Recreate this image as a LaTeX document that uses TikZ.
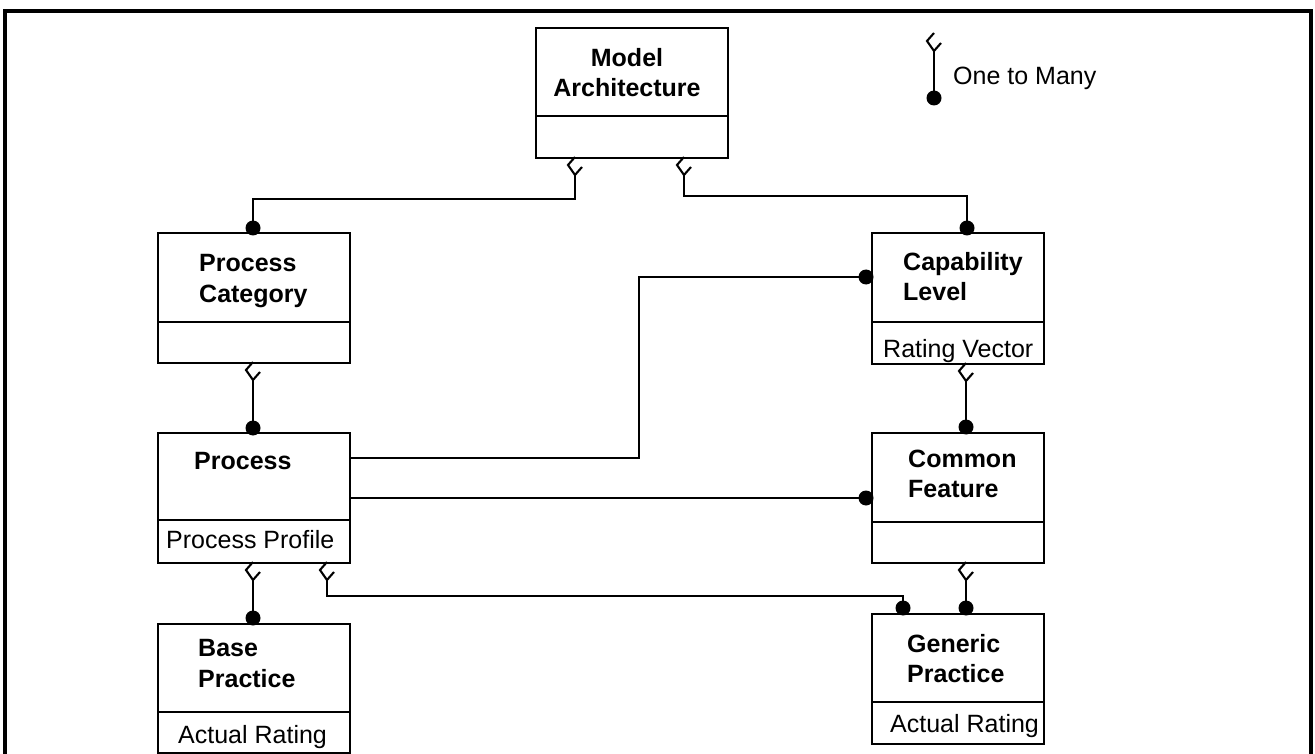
\documentclass[tikz,border=0pt]{standalone}
\usepackage{fontspec}
\setmainfont{Liberation Sans}
\usetikzlibrary{calc}
\begin{document}
\begin{tikzpicture}[x=1pt,y=-1pt,
  box/.style={draw, line width=1.9pt, anchor=north west, inner sep=0pt, minimum width=#1},
  conn/.style={line width=1.7pt},
  divl/.style={line width=1.6pt},
  lbl/.style={anchor=base west, inner sep=0pt, font=\fontsize{25}{30}\selectfont},
  blbl/.style={anchor=base west, inner sep=0pt, font=\fontsize{25}{30}\selectfont\bfseries},
  crowfoot/.pic={\draw[line width=2.1pt,line join=miter] (0,0)--(-7,8)--(0,18)--(7,10);},
  dotc/.style={fill=black}
]
\useasboundingbox (0,0) rectangle (1315,754);
% frame
\draw[line width=3.5pt] (5,760)--(5,11)--(1311,11)--(1311,760);

% boxes
\node[box=192pt, minimum height=130pt] (ma) at (535,27) {};
\node[box=192pt, minimum height=130pt] (pc) at (157,232) {};
\node[box=192pt, minimum height=130pt] (pr) at (157,432) {};
\node[box=192pt, minimum height=129pt] (bp) at (157,623) {};
\node[box=172pt, minimum height=131pt] (cl) at (871,232) {};
\node[box=172pt, minimum height=130pt] (cf) at (871,432) {};
\node[box=172pt, minimum height=130pt] (gp) at (871,613) {};

% dividers
\draw[divl] (ma.west |- 0,116) -- (ma.east |- 0,116);
\draw[divl] (pc.west |- 0,322) -- (pc.east |- 0,322);
\draw[divl] (pr.west |- 0,520) -- (pr.east |- 0,520);
\draw[divl] (bp.west |- 0,712) -- (bp.east |- 0,712);
\draw[divl] (cl.west |- 0,322) -- (cl.east |- 0,322);
\draw[divl] (cf.west |- 0,522) -- (cf.east |- 0,522);
\draw[divl] (gp.west |- 0,702) -- (gp.east |- 0,702);

% texts
\node[blbl, anchor=base] (t1) at (627,67) {Model};
\node[blbl, anchor=base] (t2) at (627,97) {Architecture};
\node[blbl] (t3) at (199,272) {Process};
\node[blbl] (t4) at (199,302) {Category};
\node[blbl] (t5) at (194,469) {Process};
\node[lbl] (t6) at (166,548) {Process Profile};
\node[blbl] (t7) at (198,656) {Base};
\node[blbl] (t8) at (198,687) {Practice};
\node[lbl] (t9) at (178,743) {Actual Rating};
\node[blbl] (t10) at (903,270) {Capability};
\node[blbl] (t11) at (903,300) {Level};
\node[lbl] (t12) at (883,357) {Rating Vector};
\node[blbl] (t13) at (908,467) {Common};
\node[blbl] (t14) at (908,497) {Feature};
\node[blbl] (t15) at (907,652) {Generic};
\node[blbl] (t16) at (907,682) {Practice};
\node[lbl] (t17) at (890,732) {Actual Rating};
\node[lbl] (t18) at (953,85) {One to Many};

% ports
\coordinate (maL) at (575,157);
\coordinate (maR) at (684,157);
\coordinate (pcB) at (253,362);
\coordinate (prB1) at (253,562);
\coordinate (prB2) at (327,562);
\coordinate (prR1) at (349,458);
\coordinate (prR2) at (349,498);
\coordinate (clB) at (966,363);
\coordinate (cfB) at (966,562);
\coordinate (pcT) at (253,232);
\coordinate (clT) at (967,232);
\coordinate (clL) at (871,277);
\coordinate (cfL) at (871,498);
\coordinate (cfT) at (966,432);
\coordinate (bpT) at (253,623);
\coordinate (gpT1) at (903,613);
\coordinate (gpT2) at (966,613);
\coordinate (lgT) at (934,33);
\coordinate (lgB) at (934,98);

% legend
\pic at (lgT) {crowfoot};
\draw[conn] ($(lgT)+(0,18)$) -- (lgB);
\fill[dotc] (lgB) circle[radius=7.5pt];

% connectors
\pic at (maL) {crowfoot};
\draw[conn] ($(maL)+(0,18)$) |- (253,199) -- (pcT);
\fill[dotc] ($(pcT)+(0,-4)$) circle[radius=7.5pt];

\pic at (maR) {crowfoot};
\draw[conn] ($(maR)+(0,18)$) |- (967,196) -- (clT);
\fill[dotc] ($(clT)+(0,-4)$) circle[radius=7.5pt];

\pic at (pcB) {crowfoot};
\draw[conn] ($(pcB)+(0,18)$) -- (pr.north -| pcB);
\fill[dotc] ($(pr.north -| pcB)+(0,-4)$) circle[radius=7.5pt];

\draw[conn] (prR1) -- (639,458) |- (clL);
\fill[dotc] ($(clL)+(-5,0)$) circle[radius=7.5pt];

\draw[conn] (prR2) -- (cfL);
\fill[dotc] ($(cfL)+(-5,0)$) circle[radius=7.5pt];

\pic at (prB1) {crowfoot};
\draw[conn] ($(prB1)+(0,18)$) -- (bpT);
\fill[dotc] ($(bpT)+(0,-5)$) circle[radius=7.5pt];

\pic at (prB2) {crowfoot};
\draw[conn] ($(prB2)+(0,18)$) |- (903,596) -- (gpT1);
\fill[dotc] ($(gpT1)+(0,-5)$) circle[radius=7.5pt];

\pic at (clB) {crowfoot};
\draw[conn] ($(clB)+(0,18)$) -- (cfT);
\fill[dotc] ($(cfT)+(0,-5)$) circle[radius=7.5pt];

\pic at (cfB) {crowfoot};
\draw[conn] ($(cfB)+(0,18)$) -- (gpT2);
\fill[dotc] ($(gpT2)+(0,-5)$) circle[radius=7.5pt];
\end{tikzpicture}
\end{document}
